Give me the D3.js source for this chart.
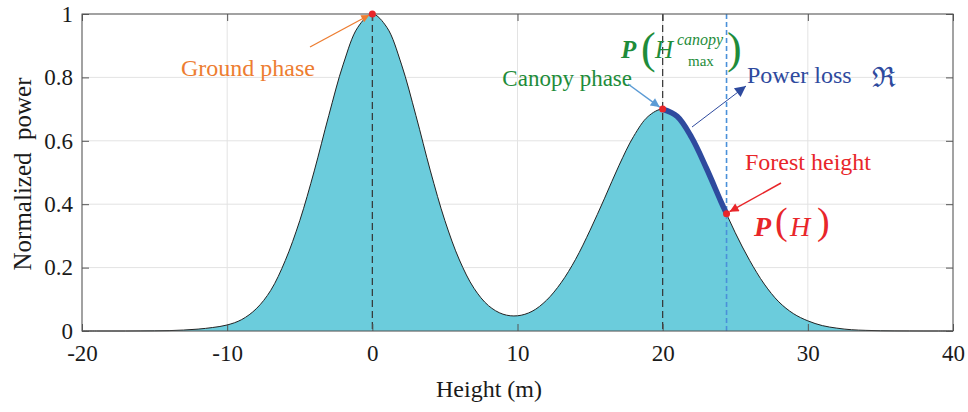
<!DOCTYPE html>
<html>
<head>
<meta charset="utf-8">
<script src="https://cdn.jsdelivr.net/npm/d3@7"></script>
<style>
  html, body { margin: 0; padding: 0; background: #fff; }
</style>
</head>
<body>
<svg id="chart" width="968" height="412"></svg>
<script>
// ---- data ----
const heights = [-20,-19,-18,-17,-16,-15,-14,-13,-12,-11,-10,-9,-8,-7,-6,-5,-4,-3,-2,-1,0,1,2,3,4,5,6,7,8,9,10,11,12,13,14,15,16,17,18,19,20,21,22,23,24,25,26,27,28,29,30,31,32,33,34,35,36,37,38,39,40];
const power = [0,0,0,0,0.0002,0.0005,0.0012,0.003,0.006,0.011,0.019,0.036,0.07,0.128,0.222,0.348,0.505,0.68,0.842,0.958,1,0.958,0.842,0.68,0.505,0.348,0.224,0.135,0.08,0.053,0.048,0.062,0.097,0.152,0.226,0.318,0.419,0.523,0.614,0.677,0.7,0.677,0.61,0.515,0.41,0.31,0.222,0.148,0.092,0.055,0.032,0.017,0.009,0.004,0.002,0.0008,0.0003,0.0001,0,0,0];
const powerLossX = [20,21,22,23,24,24.4];
const powerLossY = [0.7,0.677,0.61,0.515,0.41,0.37];
const groundPhase = {x: 0, y: 1};
const canopyPhase = {x: 20, y: 0.7};
const forestHeight = {x: 24.4, y: 0.37};
const xTicks = [-20,-10,0,10,20,30,40];
const yTicks = [0,0.2,0.4,0.6,0.8,1];
const yTickLabels = ["0","0.2","0.4","0.6","0.8","1"];

// ---- layout ----
const FONT = "Liberation Serif";
const svg = d3.select("#chart");
const L = 82, R = 953, T = 14, B = 331;
const x = d3.scaleLinear().domain([-20, 40]).range([L, R]);
const y = d3.scaleLinear().domain([0, 1]).range([B, T]);

const defs = svg.append("defs");
function marker(id, color, w, h) {
  defs.append("marker").attr("id", id).attr("viewBox", "0 0 10 10")
    .attr("refX", 10).attr("refY", 5).attr("markerWidth", w).attr("markerHeight", h)
    .attr("markerUnits", "userSpaceOnUse").attr("orient", "auto")
    .append("path").attr("d", "M0,0 L10,5 L0,10 Z").attr("fill", color);
}
marker("mOrange", "#ed7d31", 10, 8);
marker("mLightBlue", "#5b9bd5", 11, 9);
marker("mBlue", "#2e4a9e", 14, 11);
marker("mRed", "#e8262a", 12, 9);

// grid
const g = svg.append("g");
g.selectAll(".gx").data(xTicks).enter().append("line")
  .attr("x1", d => x(d)).attr("x2", d => x(d)).attr("y1", T).attr("y2", B)
  .attr("stroke", "#e3e3e3").attr("stroke-width", 1);
g.selectAll(".gy").data(yTicks).enter().append("line")
  .attr("x1", L).attr("x2", R).attr("y1", d => y(d)).attr("y2", d => y(d))
  .attr("stroke", "#e3e3e3").attr("stroke-width", 1);

const pts = heights.map((h, i) => [h, power[i]]);
const area = d3.area().x(d => x(d[0])).y0(y(0)).y1(d => y(d[1])).curve(d3.curveCatmullRom.alpha(0.5));
const line = d3.line().x(d => x(d[0])).y(d => y(d[1])).curve(d3.curveCatmullRom.alpha(0.5));

svg.append("path").datum(pts).attr("d", area).attr("fill", "#6bccdc");
svg.append("path").datum(pts).attr("d", line).attr("fill", "none").attr("stroke", "#222").attr("stroke-width", 1);

// dashed verticals
svg.append("line").attr("x1", x(groundPhase.x)).attr("x2", x(groundPhase.x)).attr("y1", T).attr("y2", B)
  .attr("stroke", "#333").attr("stroke-width", 1.2).attr("stroke-dasharray", "7,4");
svg.append("line").attr("x1", x(canopyPhase.x)).attr("x2", x(canopyPhase.x)).attr("y1", T).attr("y2", B)
  .attr("stroke", "#333").attr("stroke-width", 1.2).attr("stroke-dasharray", "7,4");
svg.append("line").attr("x1", x(forestHeight.x)).attr("x2", x(forestHeight.x)).attr("y1", T).attr("y2", B)
  .attr("stroke", "#4a90d9").attr("stroke-width", 1.6).attr("stroke-dasharray", "5,3");

// power loss thick line
const lossPts = powerLossX.map((h, i) => [h, powerLossY[i]]);
svg.append("path").datum(lossPts).attr("d", line).attr("fill", "none")
  .attr("stroke", "#2e4a9e").attr("stroke-width", 5.5).attr("stroke-linecap", "butt");

// axes frame
svg.append("rect").attr("x", L).attr("y", T).attr("width", R - L).attr("height", B - T)
  .attr("fill", "none").attr("stroke", "#555").attr("stroke-width", 1);
const axB = svg.append("g").attr("transform", `translate(0,${B})`)
  .call(d3.axisBottom(x).tickValues(xTicks).tickSize(-7).tickPadding(14).tickFormat(d => String(d)));
const axT = svg.append("g").attr("transform", `translate(0,${T})`)
  .call(d3.axisTop(x).tickValues(xTicks).tickSize(-7).tickFormat(""));
const axL = svg.append("g").attr("transform", `translate(${L},0)`)
  .call(d3.axisLeft(y).tickValues(yTicks).tickSize(-7).tickPadding(9).tickFormat((d, i) => yTickLabels[i]));
const axR = svg.append("g").attr("transform", `translate(${R},0)`)
  .call(d3.axisRight(y).tickValues(yTicks).tickSize(-7).tickFormat(""));
[axB, axT, axL, axR].forEach(a => {
  a.attr("font-family", FONT);
  a.select(".domain").remove();
  a.selectAll(".tick line").attr("stroke", "#555");
  a.selectAll("text").attr("font-family", FONT)
    .attr("font-size", 23).attr("fill", "#1a1a1a");
});

function txt(xp, yp, s, size, color) {
  return svg.append("text").attr("x", xp).attr("y", yp).attr("font-family", FONT)
    .attr("font-size", size).attr("fill", color).text(s);
}

// axis labels
txt(489, 397, "Height (m)", 24, "#1a1a1a").attr("text-anchor", "middle");
svg.append("text").attr("transform", "translate(31,174) rotate(-90)").attr("text-anchor", "middle")
  .attr("font-family", FONT).style("white-space", "pre")
  .attr("font-size", 25).attr("fill", "#1a1a1a").text("Normalized  power");

// Ground phase
txt(181, 76, "Ground phase", 24, "#ed7d31");
svg.append("line").attr("x1", 310).attr("y1", 47).attr("x2", x(groundPhase.x) - 3).attr("y2", y(groundPhase.y) + 1)
  .attr("stroke", "#ed7d31").attr("stroke-width", 1.3).attr("marker-end", "url(#mOrange)");

// Canopy phase
txt(632, 86, "Canopy phase", 23, "#1e8c3a").attr("text-anchor", "end");
svg.append("line").attr("x1", 628).attr("y1", 84).attr("x2", x(canopyPhase.x) - 3).attr("y2", y(canopyPhase.y) - 2)
  .attr("stroke", "#5b9bd5").attr("stroke-width", 1.5).attr("marker-end", "url(#mLightBlue)");

// P(H_max^canopy)
txt(621, 58, "P", 25, "#1e8c3a").attr("font-weight", "bold").attr("font-style", "italic");
txt(641, 63, "(", 44, "#1e8c3a");
txt(655, 58, "H", 25, "#1e8c3a").attr("font-style", "italic");
txt(677, 45, "canopy", 16, "#1e8c3a").attr("font-style", "italic");
txt(688, 66, "max", 15, "#1e8c3a");
txt(727, 63, ")", 44, "#1e8c3a");

// Power loss
txt(747, 83, "Power loss", 24, "#2e4a9e");
svg.append("text").attr("x", 872).attr("y", 87).attr("font-size", 28).attr("font-family", "DejaVu Serif")
  .attr("fill", "#2e4a9e").text("\u211C");
svg.append("line").attr("x1", 692).attr("y1", 127).attr("x2", 746).attr("y2", 86)
  .attr("stroke", "#2e4a9e").attr("stroke-width", 1).attr("marker-end", "url(#mBlue)");

// Forest height
txt(745, 170, "Forest height", 24, "#e8262a");
svg.append("line").attr("x1", 781).attr("y1", 183).attr("x2", x(forestHeight.x) + 3).attr("y2", y(forestHeight.y) - 2)
  .attr("stroke", "#e8262a").attr("stroke-width", 1.5).attr("marker-end", "url(#mRed)");
txt(754, 236, "P", 28, "#e8262a").attr("font-weight", "bold").attr("font-style", "italic");
txt(775, 234, "(", 38, "#e8262a");
txt(790, 236, "H", 28, "#e8262a").attr("font-style", "italic");
txt(817, 234, ")", 38, "#e8262a");

// red dots
[groundPhase, canopyPhase, forestHeight].forEach(p => {
  svg.append("circle").attr("cx", x(p.x)).attr("cy", y(p.y)).attr("r", 3.5).attr("fill", "#e8262a");
});
</script>
</body>
</html>
